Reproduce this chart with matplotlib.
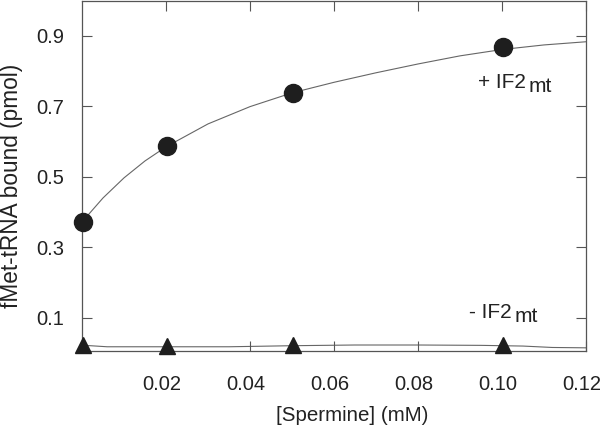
import matplotlib
matplotlib.use("Agg")
import matplotlib.pyplot as plt
from matplotlib.transforms import ScaledTranslation

plt.rcParams['font.family'] = ['Liberation Sans', 'DejaVu Sans']

# points measured with and without IF2mt
spermine = [0.0003, 0.0202, 0.0502, 0.1002]
bound_plus = [0.372, 0.586, 0.738, 0.869]
bound_minus = [0.022, 0.019, 0.022, 0.022]

# fitted curves
fit_x = [0.0, 0.005, 0.01, 0.015, 0.02, 0.03, 0.04, 0.05, 0.06, 0.07, 0.08, 0.09, 0.10, 0.11, 0.12]
fit_plus = [0.372, 0.44, 0.497, 0.545, 0.585, 0.650, 0.699, 0.738, 0.768, 0.795, 0.820, 0.843, 0.861, 0.874, 0.883]
fit_minus_x = [0.0, 0.002, 0.006, 0.02, 0.035, 0.05, 0.065, 0.08, 0.095, 0.105, 0.112, 0.12]
fit_minus = [0.022, 0.021, 0.018, 0.018, 0.018, 0.021, 0.023, 0.023, 0.022, 0.02, 0.016, 0.015]

xticks = [0.02, 0.04, 0.06, 0.08, 0.10, 0.12]
yticks = [0.1, 0.3, 0.5, 0.7, 0.9]

fig = plt.figure(figsize=(6.01, 4.26), dpi=100)
ax = fig.add_axes([82 / 601, 75 / 426, 504 / 601, 350.5 / 426])

ax.plot(fit_x, fit_plus, color='#666666', lw=0.8, zorder=1)
ax.plot(fit_minus_x, fit_minus, color='#666666', lw=0.8, zorder=1)
ax.plot(spermine, bound_plus, 'o', color='#1e1e1e', ms=13, zorder=3, clip_on=False)
ax.plot(spermine, bound_minus, '^', color='#1e1e1e', ms=12, zorder=3, clip_on=False)

ax.set_xlim(0, 0.12)
ax.set_ylim(0.006, 1.0)
ax.set_xticks(xticks)
ax.set_xticklabels(['%.2f' % v for v in xticks])
ax.set_yticks(yticks)
ax.set_yticklabels(['%.1f' % v for v in yticks])
ax.tick_params(direction='in', length=7, width=0.8, color='#555555',
               top=True, right=True, labelsize=14.5, labelcolor='#222222')
ax.tick_params(axis='x', pad=17)
ax.tick_params(axis='y', pad=13)
shift = ScaledTranslation(-4 / 100, 0, fig.dpi_scale_trans)
for lab in ax.get_xticklabels():
    lab.set_transform(lab.get_transform() + shift)
for sp in ax.spines.values():
    sp.set_color('#555555')
    sp.set_linewidth(0.9)

ax.set_xlabel('[Spermine] (mM)', fontsize=14.8, color='#222222')
ax.xaxis.set_label_coords(0.536, -0.158)
ax.set_ylabel('fMet-tRNA bound (pmol)', fontsize=16.3, color='#222222')
ax.yaxis.set_label_coords(-0.118, 0.472)

# curve labels with subscripts
for x, y, s in [(0.0943, 0.753, '+ IF2'), (0.0922, 0.1, '- IF2')]:
    t = ax.text(x, y, s, fontsize=15, color='#222222', va='baseline', ha='left')
    fig.canvas.draw()
    bb = t.get_window_extent()
    ax.text(bb.x1 + 3, bb.y0 - 4, 'mt', fontsize=15, color='#222222',
            va='bottom', ha='left', transform=None)

fig.savefig('out.png', dpi=100)
